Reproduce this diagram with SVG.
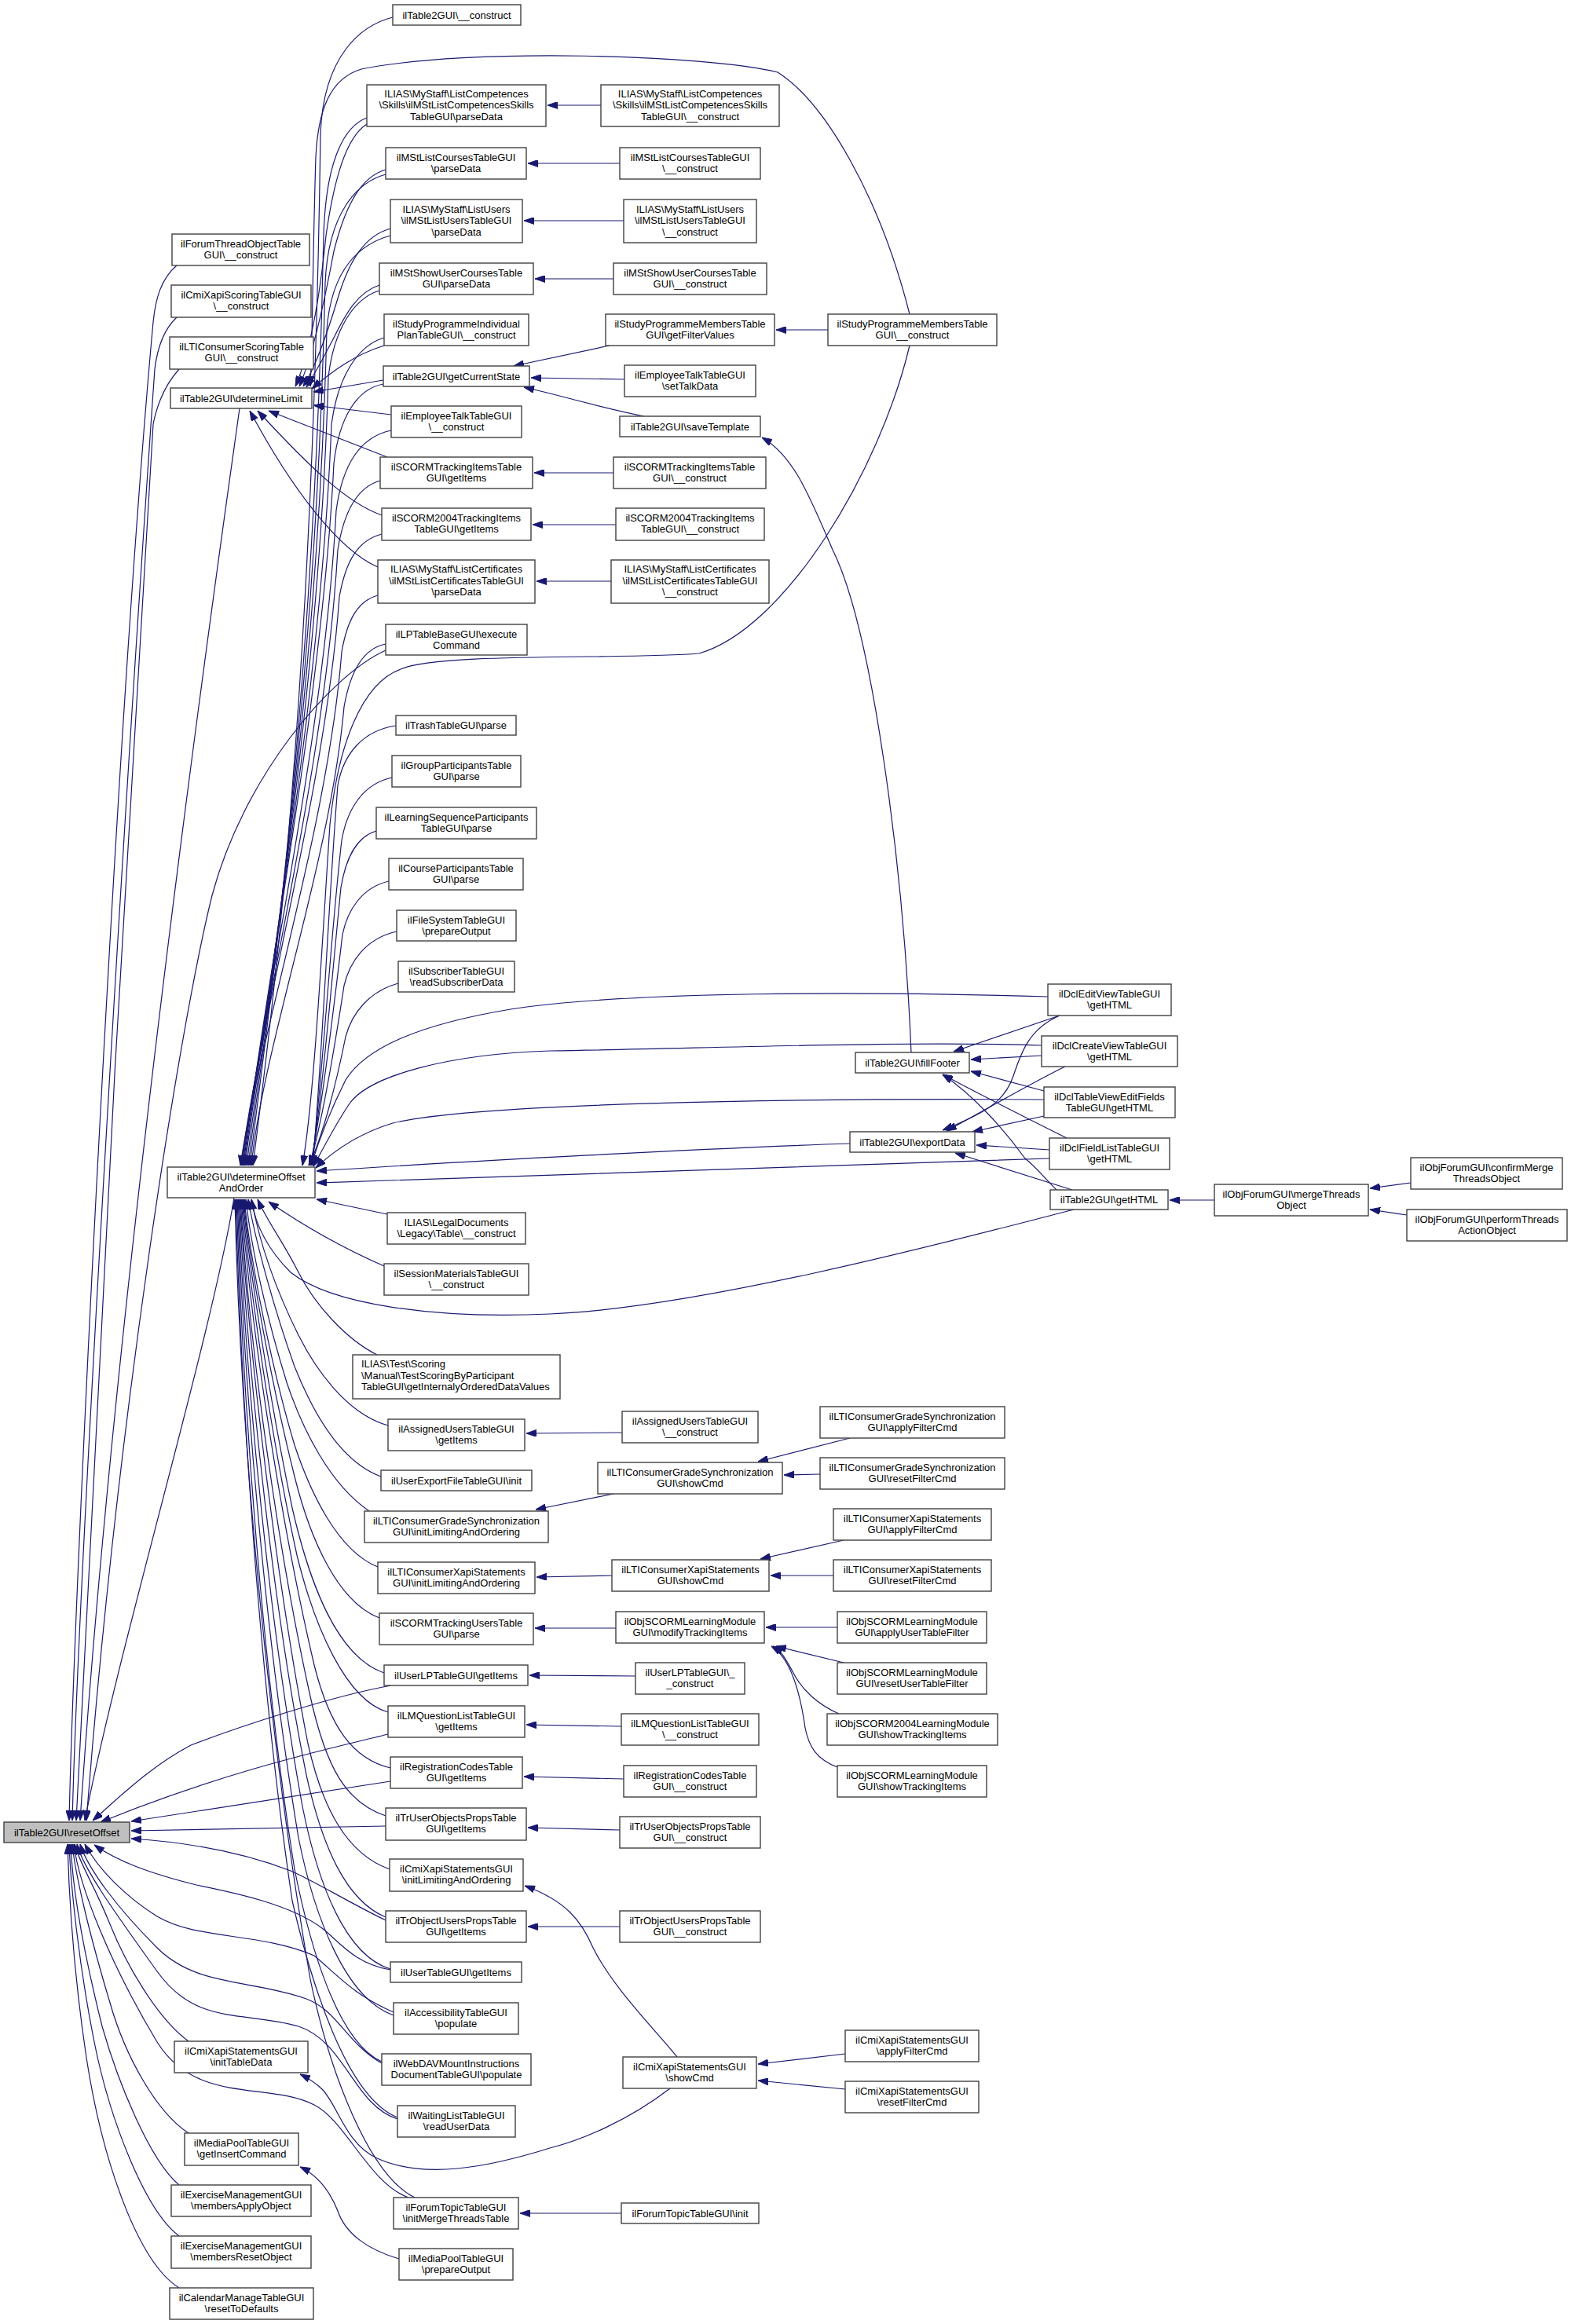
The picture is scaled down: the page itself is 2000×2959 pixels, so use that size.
<svg xmlns="http://www.w3.org/2000/svg" width="2000" height="2959" viewBox="0 0 2000 2959">
<defs>
<style>
.node rect{fill:#ffffff;stroke:#404040;stroke-width:1.4}
.node text{font-family:"Liberation Sans",Arial,Helvetica,sans-serif;font-size:13px;fill:#000000;text-anchor:middle}
.node text.l{text-anchor:start}
#n_reset rect{fill:#bfbfbf}
.edges path{fill:none;stroke:#191970;stroke-width:1.2;marker-end:url(#ah)}
</style>
<marker id="ah" viewBox="0 0 13 9" refX="13" refY="4.5" markerWidth="13" markerHeight="9" markerUnits="userSpaceOnUse" orient="auto"><path d="M0,0 L13,4.5 L0,9 z" fill="#191970" stroke="#191970" stroke-width="1"/></marker>
</defs>
<rect x="0" y="0" width="2000" height="2959" fill="#ffffff"/>
<g class="edges">
<!-- into resetOffset -->
<path d="M225,338 C205,355 198,380 195,410 C150,900 95,2000 88,2318"/>
<path d="M225,404 C208,420 200,445 197,470 C160,1000 100,2000 92,2318"/>
<path d="M228,470 C210,490 200,515 195,540 C165,1000 110,2000 97,2318"/>
<path d="M305,520 C280,700 150,1600 102,2318"/>
<path d="M491,828 C420,860 310,990 270,1140 C230,1300 150,1800 110,2318"/>
<path d="M298,1525 C270,1700 150,2100 108,2318"/>
<path d="M498,2146 C420,2160 300,2200 243,2222 C190,2250 150,2290 118,2318"/>
<path d="M494,2208 C440,2222 300,2250 128,2320"/>
<path d="M497,2268 L167,2319"/>
<path d="M491,2325 L167,2331"/>
<path d="M491,2445 C440,2420 400,2395 370,2382 C300,2355 230,2345 167,2341"/>
<path d="M497,2508 C450,2500 430,2470 410,2455 C370,2425 300,2410 250,2400 C190,2385 150,2370 120,2349"/>
<path d="M501,2562 C450,2540 430,2515 400,2490 C330,2460 250,2470 200,2440 C160,2415 125,2380 108,2348"/>
<path d="M486,2627 C440,2600 430,2560 390,2545 C320,2520 250,2530 200,2480 C150,2430 112,2380 102,2348"/>
<path d="M506,2698 C450,2680 440,2600 380,2580 C310,2560 250,2580 200,2510 C150,2440 106,2380 98,2348"/>
<path d="M520,2798 C470,2780 440,2700 400,2680 C340,2650 250,2680 200,2600 C140,2500 100,2400 94,2348"/>
<path d="M240,2599 C200,2570 160,2500 140,2450 C120,2400 100,2370 95,2348"/>
<path d="M240,2716 C200,2690 160,2620 140,2550 C110,2450 95,2380 92,2348"/>
<path d="M228,2782 C190,2750 150,2650 130,2580 C105,2480 92,2400 90,2348"/>
<path d="M228,2847 C185,2815 140,2700 120,2600 C100,2500 90,2400 88,2348"/>
<path d="M228,2913 C175,2880 130,2750 110,2620 C95,2520 88,2420 86,2348"/>
<!-- into determineLimit -->
<path d="M467,158 C440,175 425,230 415,300 C405,400 390,460 376,492"/>
<path d="M491,216 C460,225 440,260 425,320 C410,400 395,460 381,492"/>
<path d="M497,291 C465,300 445,330 430,380 C415,430 400,470 386,492"/>
<path d="M483,363 C455,372 440,400 425,430 C410,460 398,480 390,493"/>
<path d="M489,440 C450,452 420,475 397,495"/>
<path d="M488,484 L399,499"/>
<path d="M498,528 L399,516"/>
<path d="M493,582 L342,523"/>
<path d="M486,656 C440,640 390,590 328,523"/>
<path d="M481,722 C430,700 370,620 318,523"/>
<path d="M1158,400 C1120,250 1050,130 990,92 C900,70 600,60 460,88 C420,100 405,140 402,200 C398,330 398,430 395,492"/>
<!-- into determineOffsetAndOrder from top group -->
<path d="M500,22 C460,32 412,70 408,170 C398,900 345,1300 322,1484"/>
<path d="M467,150 C440,160 415,200 412,300 C400,900 340,1300 318,1484"/>
<path d="M491,222 C455,232 418,270 414,360 C402,900 338,1300 316,1484"/>
<path d="M497,300 C460,310 422,340 416,420 C404,900 336,1300 314,1484"/>
<path d="M483,370 C450,380 425,420 418,480 C406,900 334,1300 312,1484"/>
<path d="M489,430 C455,440 430,480 422,540 C408,900 332,1300 311,1484"/>
<path d="M488,489 C455,495 432,530 425,590 C410,900 330,1300 310,1484"/>
<path d="M498,548 C460,556 436,590 428,650 C412,950 330,1300 309,1484"/>
<path d="M484,612 C455,620 438,650 430,700 C414,980 330,1300 308,1484"/>
<path d="M486,680 C455,688 440,715 432,760 C415,1000 330,1300 307,1484"/>
<path d="M481,758 C455,765 442,790 435,830 C418,1050 330,1320 306,1484"/>
<path d="M491,820 C460,826 445,860 438,900 C420,1100 335,1330 320,1484"/>
<path d="M1158,440 C1120,600 1000,800 890,832 C800,840 560,830 510,852 C460,870 430,950 420,1050 C410,1200 400,1400 385,1484"/>
<!-- lower group -->
<path d="M504,924 C462,930 437,960 430,1000 C418,1150 410,1350 398,1484"/>
<path d="M499,990 C462,998 442,1030 435,1070 C420,1200 410,1380 397,1484"/>
<path d="M479,1058 C452,1066 440,1095 434,1130 C422,1250 410,1400 396,1484"/>
<path d="M495,1122 C460,1130 442,1160 436,1190 C424,1290 410,1410 395,1484"/>
<path d="M505,1186 C465,1195 445,1225 438,1255 C425,1340 410,1430 394,1484"/>
<path d="M507,1252 C470,1262 448,1290 440,1320 C428,1380 410,1450 393,1484"/>
<!-- Dcl / export / getHTML into determineOffsetAndOrder -->
<path d="M1334,1269 C1100,1262 800,1262 650,1285 C530,1305 465,1335 440,1375 C420,1415 405,1455 396,1484"/>
<path d="M1326,1331 C1150,1325 900,1335 700,1338 C570,1342 470,1370 445,1405 C425,1435 410,1465 399,1485"/>
<path d="M1329,1400 C1000,1398 600,1405 500,1430 C450,1445 420,1470 402,1487"/>
<path d="M1082,1456 C900,1462 600,1478 403,1491"/>
<path d="M1336,1475 C1200,1480 800,1495 403,1506"/>
<path d="M1367,1540 C1250,1570 900,1665 700,1673 C550,1680 420,1660 370,1620 C340,1590 325,1560 320,1527"/>
<!-- right side into determineOffsetAndOrder from lower col3 -->
<path d="M493,1546 L403,1527"/>
<path d="M489,1612 C450,1595 400,1570 342,1530"/>
<path d="M480,1725 C440,1705 400,1660 380,1620 C360,1580 340,1555 328,1527"/>
<path d="M494,1815 C440,1800 400,1740 380,1700 C350,1640 330,1580 320,1527"/>
<path d="M485,1880 C430,1860 395,1790 375,1740 C350,1670 325,1580 316,1527"/>
<path d="M470,1924 C420,1890 385,1820 365,1760 C340,1680 320,1590 313,1527"/>
<path d="M481,1995 C430,1975 395,1900 375,1840 C345,1740 318,1600 311,1527"/>
<path d="M483,2060 C430,2040 395,1960 375,1880 C345,1760 318,1610 310,1527"/>
<path d="M489,2130 C430,2110 395,2020 372,1920 C345,1790 318,1620 309,1527"/>
<path d="M494,2180 C440,2165 400,2070 378,1980 C345,1830 318,1640 308,1527"/>
<path d="M497,2251 C450,2240 420,2200 400,2120 C360,1950 320,1700 307,1527"/>
<path d="M491,2312 C440,2295 415,2250 395,2160 C355,1980 318,1720 306,1527"/>
<path d="M496,2380 C440,2360 410,2300 392,2220 C355,2030 318,1740 305,1527"/>
<path d="M491,2441 C440,2420 410,2350 390,2260 C350,2060 316,1760 304,1527"/>
<path d="M497,2507 C440,2490 405,2400 385,2300 C345,2080 314,1780 303,1527"/>
<path d="M501,2566 C440,2545 400,2440 380,2340 C340,2100 312,1790 302,1527"/>
<path d="M486,2625 C430,2600 395,2480 375,2380 C335,2130 310,1800 301,1527"/>
<path d="M506,2696 C440,2670 395,2520 372,2420 C332,2150 308,1810 300,1527"/>
<path d="M528,2798 C470,2770 420,2640 395,2520 C340,2200 306,1830 299,1527"/>
<!-- getCurrentState -->
<path d="M776,440 L654,466"/>
<path d="M795,483 L676,481"/>
<path d="M820,530 C760,518 720,505 667,493"/>
<!-- col4 -> col3 -->
<path d="M765,134 L697,134"/>
<path d="M789,208 L672,208"/>
<path d="M794,281 L667,281"/>
<path d="M781,355 L681,355"/>
<path d="M1054,420 L988,420"/>
<path d="M781,602 L680,602"/>
<path d="M784,668 L678,668"/>
<path d="M778,740 L683,740"/>
<path d="M1160,1340 C1150,1100 1110,800 1060,700 C1030,630 1010,580 970,557"/>
<!-- fillFooter / exportData -->
<path d="M1349,1293 L1214,1339"/>
<path d="M1326,1344 L1236,1349"/>
<path d="M1329,1389 L1236,1364"/>
<path d="M1358,1449 C1320,1430 1250,1395 1200,1368"/>
<path d="M1345,1515 C1330,1500 1318,1485 1305,1475 C1280,1440 1240,1395 1200,1368"/>
<path d="M1349,1293 C1310,1310 1300,1340 1290,1370 C1280,1400 1260,1415 1200,1439"/>
<path d="M1356,1358 C1320,1375 1260,1410 1205,1440"/>
<path d="M1329,1421 L1238,1441"/>
<path d="M1336,1464 L1243,1458"/>
<path d="M1365,1515 L1216,1468"/>
<path d="M1546,1528 L1489,1528"/>
<path d="M1796,1506 L1744,1513"/>
<path d="M1791,1547 L1744,1540"/>
<!-- lower col4/col5 -->
<path d="M792,1824 L670,1825"/>
<path d="M781,1902 L682,1922"/>
<path d="M1082,1831 L965,1861"/>
<path d="M1044,1877 L998,1878"/>
<path d="M781,2006 L683,2008"/>
<path d="M1074,1961 L968,1985"/>
<path d="M1061,2006 L981,2006"/>
<path d="M784,2073 L681,2073"/>
<path d="M1066,2072 L975,2072"/>
<path d="M1074,2117 L988,2096"/>
<path d="M1068,2182 C1040,2170 1020,2150 1010,2130 C1000,2112 995,2102 984,2096"/>
<path d="M1066,2250 C1040,2240 1030,2225 1025,2200 C1018,2150 1005,2110 982,2096"/>
<path d="M809,2134 L674,2133"/>
<path d="M791,2198 L670,2196"/>
<path d="M794,2265 L667,2262"/>
<path d="M789,2330 L672,2327"/>
<path d="M789,2453 L672,2453"/>
<path d="M862,2619 C830,2580 780,2530 755,2480 C740,2445 720,2420 668,2401"/>
<path d="M853,2659 C800,2700 740,2725 700,2735 C620,2760 540,2775 480,2748 C440,2730 430,2680 410,2660 C400,2650 390,2645 382,2641"/>
<path d="M1076,2615 L965,2628"/>
<path d="M1076,2660 L965,2649"/>
<path d="M791,2818 L662,2818"/>
<path d="M508,2876 C470,2865 440,2845 430,2815 C420,2790 405,2770 382,2759"/>
</g>
<g id="n_reset" class="node"><rect x="5" y="2320" width="160" height="26"/><text x="85" y="2337.5">ilTable2GUI\resetOffset</text></g>
<g id="n_forumthread" class="node"><rect x="219" y="298" width="175" height="40"/><text x="306.5" y="314.5">ilForumThreadObjectTable</text><text x="306.5" y="329">GUI\__construct</text></g>
<g id="n_cmiscoring" class="node"><rect x="218" y="363" width="178" height="41"/><text x="307" y="379.5">ilCmiXapiScoringTableGUI</text><text x="307" y="394">\__construct</text></g>
<g id="n_ltiscoring" class="node"><rect x="216" y="429" width="183" height="41"/><text x="307.5" y="445.5">ilLTIConsumerScoringTable</text><text x="307.5" y="460">GUI\__construct</text></g>
<g id="n_detlimit" class="node"><rect x="217" y="494" width="180" height="26"/><text x="307" y="511.5">ilTable2GUI\determineLimit</text></g>
<g id="n_detoffset" class="node"><rect x="213" y="1486" width="188" height="39"/><text x="307" y="1502.5">ilTable2GUI\determineOffset</text><text x="307" y="1517">AndOrder</text></g>
<g id="n_inittabledata" class="node"><rect x="222" y="2599" width="170" height="40"/><text x="307" y="2615.5">ilCmiXapiStatementsGUI</text><text x="307" y="2630">\initTableData</text></g>
<g id="n_getinsert" class="node"><rect x="235" y="2716" width="145" height="41"/><text x="307.5" y="2732.5">ilMediaPoolTableGUI</text><text x="307.5" y="2747">\getInsertCommand</text></g>
<g id="n_membersapply" class="node"><rect x="218" y="2782" width="178" height="40"/><text x="307" y="2798.5">ilExerciseManagementGUI</text><text x="307" y="2813">\membersApplyObject</text></g>
<g id="n_membersreset" class="node"><rect x="218" y="2847" width="178" height="41"/><text x="307" y="2863.5">ilExerciseManagementGUI</text><text x="307" y="2878">\membersResetObject</text></g>
<g id="n_calendar" class="node"><rect x="216" y="2913" width="183" height="40"/><text x="307.5" y="2929.5">ilCalendarManageTableGUI</text><text x="307.5" y="2944">\resetToDefaults</text></g>
<g id="n_t2construct" class="node"><rect x="500" y="6" width="163" height="26"/><text x="581.5" y="23.5">ilTable2GUI\__construct</text></g>
<g id="n_compparse" class="node"><rect x="467" y="108" width="228" height="53"/><text x="581" y="123.5">ILIAS\MyStaff\ListCompetences</text><text x="581" y="138">\Skills\ilMStListCompetencesSkills</text><text x="581" y="152.5">TableGUI\parseData</text></g>
<g id="n_coursesparse" class="node"><rect x="491" y="188" width="179" height="40"/><text x="580.5" y="204.5">ilMStListCoursesTableGUI</text><text x="580.5" y="219">\parseData</text></g>
<g id="n_usersparse" class="node"><rect x="497" y="254" width="168" height="55"/><text x="581" y="270.5">ILIAS\MyStaff\ListUsers</text><text x="581" y="285">\ilMStListUsersTableGUI</text><text x="581" y="299.5">\parseData</text></g>
<g id="n_showcoursesparse" class="node"><rect x="483" y="335" width="196" height="40"/><text x="581" y="351.5">ilMStShowUserCoursesTable</text><text x="581" y="366">GUI\parseData</text></g>
<g id="n_spindividual" class="node"><rect x="489" y="400" width="184" height="40"/><text x="581" y="416.5">ilStudyProgrammeIndividual</text><text x="581" y="431">PlanTableGUI\__construct</text></g>
<g id="n_getcurrent" class="node"><rect x="488" y="466" width="186" height="26"/><text x="581" y="483.5">ilTable2GUI\getCurrentState</text></g>
<g id="n_emptalk" class="node"><rect x="498" y="517" width="166" height="40"/><text x="581" y="533.5">ilEmployeeTalkTableGUI</text><text x="581" y="548">\__construct</text></g>
<g id="n_scormitems" class="node"><rect x="484" y="582" width="194" height="40"/><text x="581" y="598.5">ilSCORMTrackingItemsTable</text><text x="581" y="613">GUI\getItems</text></g>
<g id="n_scorm2004items" class="node"><rect x="486" y="647" width="190" height="41"/><text x="581" y="663.5">ilSCORM2004TrackingItems</text><text x="581" y="678">TableGUI\getItems</text></g>
<g id="n_certparse" class="node"><rect x="481" y="713" width="200" height="55"/><text x="581" y="729">ILIAS\MyStaff\ListCertificates</text><text x="581" y="743.5">\ilMStListCertificatesTableGUI</text><text x="581" y="758">\parseData</text></g>
<g id="n_lpbase" class="node"><rect x="491" y="795" width="180" height="39"/><text x="581" y="811.5">ilLPTableBaseGUI\execute</text><text x="581" y="826">Command</text></g>
<g id="n_trash" class="node"><rect x="504" y="911" width="153" height="25"/><text x="580.5" y="928">ilTrashTableGUI\parse</text></g>
<g id="n_group" class="node"><rect x="499" y="962" width="164" height="40"/><text x="581" y="978.5">ilGroupParticipantsTable</text><text x="581" y="993">GUI\parse</text></g>
<g id="n_lsparse" class="node"><rect x="479" y="1028" width="204" height="40"/><text x="581" y="1044.5">ilLearningSequenceParticipants</text><text x="581" y="1059">TableGUI\parse</text></g>
<g id="n_courseparse" class="node"><rect x="495" y="1093" width="171" height="40"/><text x="580.5" y="1109.5">ilCourseParticipantsTable</text><text x="580.5" y="1124">GUI\parse</text></g>
<g id="n_fsprepare" class="node"><rect x="505" y="1159" width="152" height="39"/><text x="581" y="1175.5">ilFileSystemTableGUI</text><text x="581" y="1190">\prepareOutput</text></g>
<g id="n_subscriber" class="node"><rect x="507" y="1224" width="148" height="39"/><text x="581" y="1240.5">ilSubscriberTableGUI</text><text x="581" y="1255">\readSubscriberData</text></g>
<g id="n_legal" class="node"><rect x="493" y="1544" width="176" height="40"/><text x="581" y="1560.5">ILIAS\LegalDocuments</text><text x="581" y="1575">\Legacy\Table\__construct</text></g>
<g id="n_session" class="node"><rect x="489" y="1609" width="184" height="40"/><text x="581" y="1625.5">ilSessionMaterialsTableGUI</text><text x="581" y="1640">\__construct</text></g>
<g id="n_testscoring" class="node"><rect x="449" y="1725" width="264" height="56"/><text class="l" x="460" y="1741">ILIAS\Test\Scoring</text><text class="l" x="460" y="1755.5">\Manual\TestScoringByParticipant</text><text class="l" x="460" y="1770">TableGUI\getInternalyOrderedDataValues</text></g>
<g id="n_assignedget" class="node"><rect x="494" y="1807" width="174" height="40"/><text x="581" y="1823.5">ilAssignedUsersTableGUI</text><text x="581" y="1838">\getItems</text></g>
<g id="n_userexport" class="node"><rect x="485" y="1872" width="192" height="26"/><text x="581" y="1889.5">ilUserExportFileTableGUI\init</text></g>
<g id="n_ltigradeinit" class="node"><rect x="464" y="1924" width="234" height="40"/><text x="581" y="1940.5">ilLTIConsumerGradeSynchronization</text><text x="581" y="1955">GUI\initLimitingAndOrdering</text></g>
<g id="n_ltixapiinit" class="node"><rect x="481" y="1989" width="200" height="40"/><text x="581" y="2005.5">ilLTIConsumerXapiStatements</text><text x="581" y="2020">GUI\initLimitingAndOrdering</text></g>
<g id="n_scormusers" class="node"><rect x="483" y="2054" width="196" height="40"/><text x="581" y="2070.5">ilSCORMTrackingUsersTable</text><text x="581" y="2085">GUI\parse</text></g>
<g id="n_userlpget" class="node"><rect x="489" y="2120" width="183" height="26"/><text x="580.5" y="2137.5">ilUserLPTableGUI\getItems</text></g>
<g id="n_lmqget" class="node"><rect x="494" y="2172" width="174" height="40"/><text x="581" y="2188.5">ilLMQuestionListTableGUI</text><text x="581" y="2203">\getItems</text></g>
<g id="n_regget" class="node"><rect x="497" y="2237" width="168" height="40"/><text x="581" y="2253.5">ilRegistrationCodesTable</text><text x="581" y="2268">GUI\getItems</text></g>
<g id="n_truserget" class="node"><rect x="491" y="2302" width="179" height="41"/><text x="580.5" y="2318.5">ilTrUserObjectsPropsTable</text><text x="580.5" y="2333">GUI\getItems</text></g>
<g id="n_cmiinitlim" class="node"><rect x="496" y="2367" width="170" height="41"/><text x="581" y="2383.5">ilCmiXapiStatementsGUI</text><text x="581" y="2398">\initLimitingAndOrdering</text></g>
<g id="n_trobjget" class="node"><rect x="491" y="2433" width="179" height="40"/><text x="580.5" y="2449.5">ilTrObjectUsersPropsTable</text><text x="580.5" y="2464">GUI\getItems</text></g>
<g id="n_usertable" class="node"><rect x="497" y="2498" width="167" height="26"/><text x="580.5" y="2515.5">ilUserTableGUI\getItems</text></g>
<g id="n_access" class="node"><rect x="501" y="2550" width="159" height="40"/><text x="580.5" y="2566.5">ilAccessibilityTableGUI</text><text x="580.5" y="2581">\populate</text></g>
<g id="n_webdav" class="node"><rect x="486" y="2615" width="190" height="40"/><text x="581" y="2631.5">ilWebDAVMountInstructions</text><text x="581" y="2646">DocumentTableGUI\populate</text></g>
<g id="n_waiting" class="node"><rect x="506" y="2681" width="150" height="40"/><text x="581" y="2697.5">ilWaitingListTableGUI</text><text x="581" y="2712">\readUserData</text></g>
<g id="n_forumtopicmerge" class="node"><rect x="501" y="2798" width="159" height="40"/><text x="580.5" y="2814.5">ilForumTopicTableGUI</text><text x="580.5" y="2829">\initMergeThreadsTable</text></g>
<g id="n_mpprepare" class="node"><rect x="508" y="2863" width="145" height="40"/><text x="580.5" y="2879.5">ilMediaPoolTableGUI</text><text x="580.5" y="2894">\prepareOutput</text></g>
<g id="n_compconstruct" class="node"><rect x="765" y="108" width="227" height="53"/><text x="878.5" y="123.5">ILIAS\MyStaff\ListCompetences</text><text x="878.5" y="138">\Skills\ilMStListCompetencesSkills</text><text x="878.5" y="152.5">TableGUI\__construct</text></g>
<g id="n_coursesconstruct" class="node"><rect x="789" y="188" width="179" height="40"/><text x="878.5" y="204.5">ilMStListCoursesTableGUI</text><text x="878.5" y="219">\__construct</text></g>
<g id="n_usersconstruct" class="node"><rect x="794" y="254" width="169" height="55"/><text x="878.5" y="270.5">ILIAS\MyStaff\ListUsers</text><text x="878.5" y="285">\ilMStListUsersTableGUI</text><text x="878.5" y="299.5">\__construct</text></g>
<g id="n_showcoursesconstruct" class="node"><rect x="781" y="335" width="195" height="40"/><text x="878.5" y="351.5">ilMStShowUserCoursesTable</text><text x="878.5" y="366">GUI\__construct</text></g>
<g id="n_spfilter" class="node"><rect x="771" y="400" width="215" height="40"/><text x="878.5" y="416.5">ilStudyProgrammeMembersTable</text><text x="878.5" y="431">GUI\getFilterValues</text></g>
<g id="n_settalk" class="node"><rect x="795" y="465" width="167" height="40"/><text x="878.5" y="481.5">ilEmployeeTalkTableGUI</text><text x="878.5" y="496">\setTalkData</text></g>
<g id="n_savetemplate" class="node"><rect x="789" y="530" width="179" height="26"/><text x="878.5" y="547.5">ilTable2GUI\saveTemplate</text></g>
<g id="n_scormitemsconstruct" class="node"><rect x="781" y="582" width="194" height="40"/><text x="878" y="598.5">ilSCORMTrackingItemsTable</text><text x="878" y="613">GUI\__construct</text></g>
<g id="n_scorm2004construct" class="node"><rect x="784" y="647" width="189" height="41"/><text x="878.5" y="663.5">ilSCORM2004TrackingItems</text><text x="878.5" y="678">TableGUI\__construct</text></g>
<g id="n_certconstruct" class="node"><rect x="778" y="713" width="201" height="55"/><text x="878.5" y="729">ILIAS\MyStaff\ListCertificates</text><text x="878.5" y="743.5">\ilMStListCertificatesTableGUI</text><text x="878.5" y="758">\__construct</text></g>
<g id="n_assignedconstruct" class="node"><rect x="792" y="1797" width="173" height="40"/><text x="878.5" y="1813.5">ilAssignedUsersTableGUI</text><text x="878.5" y="1828">\__construct</text></g>
<g id="n_ltigradeshow" class="node"><rect x="761" y="1862" width="235" height="40"/><text x="878.5" y="1878.5">ilLTIConsumerGradeSynchronization</text><text x="878.5" y="1893">GUI\showCmd</text></g>
<g id="n_ltixapishow" class="node"><rect x="779" y="1986" width="200" height="40"/><text x="879" y="2002.5">ilLTIConsumerXapiStatements</text><text x="879" y="2017">GUI\showCmd</text></g>
<g id="n_modify" class="node"><rect x="784" y="2052" width="189" height="40"/><text x="878.5" y="2068.5">ilObjSCORMLearningModule</text><text x="878.5" y="2083">GUI\modifyTrackingItems</text></g>
<g id="n_userlpconstruct" class="node"><rect x="809" y="2117" width="139" height="40"/><text x="878.5" y="2133.5">ilUserLPTableGUI\_</text><text x="878.5" y="2148">_construct</text></g>
<g id="n_lmqconstruct" class="node"><rect x="791" y="2182" width="175" height="40"/><text x="878.5" y="2198.5">ilLMQuestionListTableGUI</text><text x="878.5" y="2213">\__construct</text></g>
<g id="n_regconstruct" class="node"><rect x="794" y="2248" width="169" height="40"/><text x="878.5" y="2264.5">ilRegistrationCodesTable</text><text x="878.5" y="2279">GUI\__construct</text></g>
<g id="n_truserconstruct" class="node"><rect x="789" y="2313" width="179" height="40"/><text x="878.5" y="2329.5">ilTrUserObjectsPropsTable</text><text x="878.5" y="2344">GUI\__construct</text></g>
<g id="n_trobjconstruct" class="node"><rect x="789" y="2433" width="179" height="40"/><text x="878.5" y="2449.5">ilTrObjectUsersPropsTable</text><text x="878.5" y="2464">GUI\__construct</text></g>
<g id="n_cmishow" class="node"><rect x="793" y="2619" width="170" height="40"/><text x="878" y="2635.5">ilCmiXapiStatementsGUI</text><text x="878" y="2650">\showCmd</text></g>
<g id="n_forumtopicinit" class="node"><rect x="791" y="2805" width="175" height="26"/><text x="878.5" y="2822.5">ilForumTopicTableGUI\init</text></g>
<g id="n_spconstruct" class="node"><rect x="1054" y="400" width="215" height="40"/><text x="1161.5" y="416.5">ilStudyProgrammeMembersTable</text><text x="1161.5" y="431">GUI\__construct</text></g>
<g id="n_fillfooter" class="node"><rect x="1089" y="1340" width="145" height="26"/><text x="1161.5" y="1357.5">ilTable2GUI\fillFooter</text></g>
<g id="n_export" class="node"><rect x="1082" y="1441" width="159" height="26"/><text x="1161.5" y="1458.5">ilTable2GUI\exportData</text></g>
<g id="n_ltigradeapply" class="node"><rect x="1044" y="1791" width="235" height="40"/><text x="1161.5" y="1807.5">ilLTIConsumerGradeSynchronization</text><text x="1161.5" y="1822">GUI\applyFilterCmd</text></g>
<g id="n_ltigradereset" class="node"><rect x="1044" y="1856" width="235" height="40"/><text x="1161.5" y="1872.5">ilLTIConsumerGradeSynchronization</text><text x="1161.5" y="1887">GUI\resetFilterCmd</text></g>
<g id="n_ltixapiapply" class="node"><rect x="1061" y="1921" width="201" height="40"/><text x="1161.5" y="1937.5">ilLTIConsumerXapiStatements</text><text x="1161.5" y="1952">GUI\applyFilterCmd</text></g>
<g id="n_ltixapireset" class="node"><rect x="1061" y="1986" width="201" height="40"/><text x="1161.5" y="2002.5">ilLTIConsumerXapiStatements</text><text x="1161.5" y="2017">GUI\resetFilterCmd</text></g>
<g id="n_applyuser" class="node"><rect x="1066" y="2052" width="190" height="40"/><text x="1161" y="2068.5">ilObjSCORMLearningModule</text><text x="1161" y="2083">GUI\applyUserTableFilter</text></g>
<g id="n_resetuser" class="node"><rect x="1066" y="2117" width="190" height="40"/><text x="1161" y="2133.5">ilObjSCORMLearningModule</text><text x="1161" y="2148">GUI\resetUserTableFilter</text></g>
<g id="n_scorm2004show" class="node"><rect x="1053" y="2182" width="217" height="40"/><text x="1161.5" y="2198.5">ilObjSCORM2004LearningModule</text><text x="1161.5" y="2213">GUI\showTrackingItems</text></g>
<g id="n_scormshow" class="node"><rect x="1066" y="2248" width="190" height="40"/><text x="1161" y="2264.5">ilObjSCORMLearningModule</text><text x="1161" y="2279">GUI\showTrackingItems</text></g>
<g id="n_cmiapply" class="node"><rect x="1076" y="2585" width="170" height="40"/><text x="1161" y="2601.5">ilCmiXapiStatementsGUI</text><text x="1161" y="2616">\applyFilterCmd</text></g>
<g id="n_cmireset" class="node"><rect x="1076" y="2650" width="170" height="40"/><text x="1161" y="2666.5">ilCmiXapiStatementsGUI</text><text x="1161" y="2681">\resetFilterCmd</text></g>
<g id="n_dcledit" class="node"><rect x="1334" y="1253" width="157" height="40"/><text x="1412.5" y="1269.5">ilDclEditViewTableGUI</text><text x="1412.5" y="1284">\getHTML</text></g>
<g id="n_dclcreate" class="node"><rect x="1326" y="1319" width="173" height="39"/><text x="1412.5" y="1335.5">ilDclCreateViewTableGUI</text><text x="1412.5" y="1350">\getHTML</text></g>
<g id="n_dcltvef" class="node"><rect x="1329" y="1384" width="167" height="39"/><text x="1412.5" y="1400.5">ilDclTableViewEditFields</text><text x="1412.5" y="1415">TableGUI\getHTML</text></g>
<g id="n_dclfield" class="node"><rect x="1336" y="1449" width="153" height="40"/><text x="1412.5" y="1465.5">ilDclFieldListTableGUI</text><text x="1412.5" y="1480">\getHTML</text></g>
<g id="n_gethtml" class="node"><rect x="1337" y="1515" width="150" height="25"/><text x="1412" y="1532">ilTable2GUI\getHTML</text></g>
<g id="n_merge" class="node"><rect x="1546" y="1508" width="196" height="40"/><text x="1644" y="1524.5">ilObjForumGUI\mergeThreads</text><text x="1644" y="1539">Object</text></g>
<g id="n_confirm" class="node"><rect x="1796" y="1474" width="193" height="40"/><text x="1892.5" y="1490.5">ilObjForumGUI\confirmMerge</text><text x="1892.5" y="1505">ThreadsObject</text></g>
<g id="n_perform" class="node"><rect x="1791" y="1540" width="204" height="40"/><text x="1893" y="1556.5">ilObjForumGUI\performThreads</text><text x="1893" y="1571">ActionObject</text></g>
</svg>
